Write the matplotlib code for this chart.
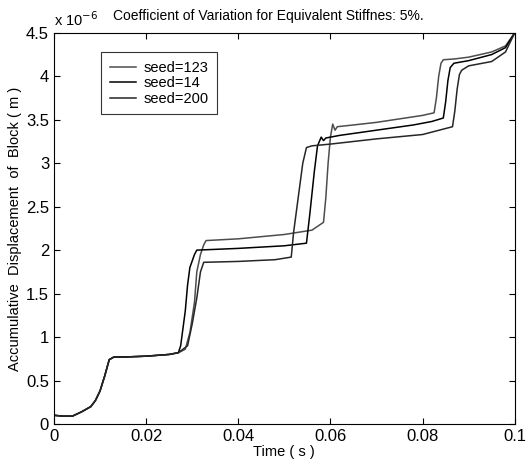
import matplotlib
matplotlib.use("Agg")
from matplotlib import pyplot as plt
from matplotlib.ticker import FuncFormatter

plt.rcParams['font.family'] = ['Liberation Sans', 'DejaVu Sans']

# displacement values in units of 1e-6 m
t_start = [0, 0.002, 0.004, 0.006, 0.008, 0.009, 0.010, 0.011, 0.012, 0.013,
           0.015, 0.020, 0.025, 0.027]
d_start = [0.10, 0.09, 0.09, 0.14, 0.20, 0.27, 0.38, 0.55, 0.74, 0.77,
           0.77, 0.78, 0.80, 0.82]

t_123 = t_start + [0.0285, 0.0295, 0.0305, 0.031, 0.0318, 0.0325, 0.033, 0.040,
                   0.050, 0.056, 0.0585, 0.059, 0.0595, 0.060, 0.0605, 0.061,
                   0.0615, 0.065, 0.070, 0.075, 0.080, 0.0825, 0.083, 0.0835,
                   0.084, 0.0845, 0.087, 0.090, 0.095, 0.098, 0.100]
d_123 = d_start + [0.86, 1.05, 1.40, 1.75, 1.95, 2.06, 2.11, 2.13,
                   2.18, 2.23, 2.32, 2.60, 3.00, 3.30, 3.45, 3.38,
                   3.42, 3.44, 3.47, 3.51, 3.55, 3.58, 3.75, 4.00,
                   4.15, 4.19, 4.20, 4.22, 4.28, 4.35, 4.50]

t_14 = t_start + [0.0275, 0.0285, 0.029, 0.0295, 0.0305, 0.031, 0.040, 0.050,
                  0.0548, 0.0555, 0.0565, 0.0572, 0.058, 0.0585, 0.059, 0.062,
                  0.070, 0.078, 0.082, 0.0845, 0.085, 0.0855, 0.086, 0.0868,
                  0.090, 0.095, 0.098, 0.100]
d_14 = d_start + [0.90, 1.30, 1.60, 1.80, 1.95, 2.00, 2.02, 2.05,
                  2.08, 2.40, 2.90, 3.20, 3.30, 3.26, 3.29, 3.32,
                  3.38, 3.44, 3.48, 3.52, 3.70, 3.95, 4.10, 4.15,
                  4.18, 4.25, 4.33, 4.50]

t_200 = t_start + [0.029, 0.030, 0.031, 0.0318, 0.0325, 0.040, 0.048, 0.0515,
                   0.052, 0.053, 0.054, 0.0548, 0.056, 0.060, 0.070, 0.080,
                   0.0865, 0.087, 0.0875, 0.088, 0.0885, 0.090, 0.095, 0.098,
                   0.100]
d_200 = d_start + [0.90, 1.15, 1.45, 1.75, 1.86, 1.87, 1.89, 1.92,
                   2.20, 2.60, 3.00, 3.18, 3.20, 3.22, 3.28, 3.33,
                   3.42, 3.60, 3.85, 4.02, 4.07, 4.12, 4.17, 4.28,
                   4.50]

labels = ['seed=123', 'seed=14', 'seed=200']
x_ticks = [0, 0.02, 0.04, 0.06, 0.08, 0.1]
y_ticks = [0, 0.5, 1, 1.5, 2, 2.5, 3, 3.5, 4, 4.5]

fig = plt.figure(figsize=(5.29, 4.69), dpi=100)
ax = fig.add_axes([0.102, 0.096, 0.871, 0.834])

ax.plot(t_123, d_123, color='0.3', lw=1.1, label=labels[0])
ax.plot(t_14, d_14, color='k', lw=1.1, label=labels[1])
ax.plot(t_200, d_200, color='0.15', lw=1.1, label=labels[2])

ax.set_xlim(0, 0.1)
ax.set_ylim(0, 4.5)
ax.set_xticks(x_ticks)
ax.set_yticks(y_ticks)
fmt = FuncFormatter(lambda v, p: '%g' % v)
ax.xaxis.set_major_formatter(fmt)
ax.yaxis.set_major_formatter(fmt)
ax.tick_params(direction='in', top=True, right=True, labelsize=12, length=4)

ax.set_xlabel('Time ( s )', fontsize=10.5, labelpad=1)
ax.set_ylabel('Accumulative  Displacement  of  Block ( m )', fontsize=10.5, labelpad=3)
ax.set_title('Coefficient of Variation for Equivalent Stiffnes: 5%.', fontsize=10,
             x=0.465, pad=9)
ax.text(0.0, 1.01, 'x 10$^{-6}$', transform=ax.transAxes, fontsize=10.5,
        ha='left', va='bottom')

leg = ax.legend(loc='upper left', bbox_to_anchor=(0.102, 0.951), borderaxespad=0,
                fancybox=False, edgecolor='k', fontsize=10.5, handlelength=1.8,
                labelspacing=0.1, borderpad=0.6, handletextpad=0.5)
leg.get_frame().set_linewidth(0.8)

fig.savefig('out.png', dpi=100)
